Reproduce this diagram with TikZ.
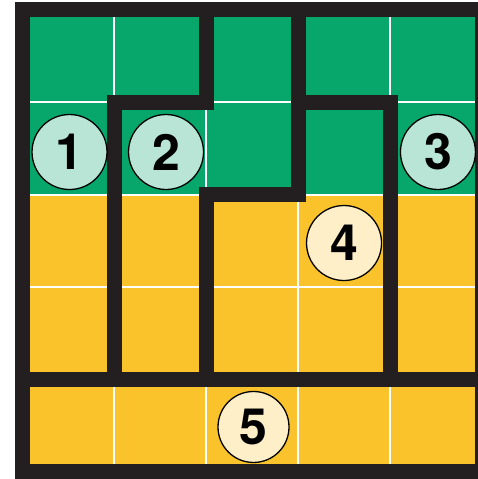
\documentclass[tikz,border=0pt]{standalone}
\usepackage{fontspec}
\newfontfamily\numfont{TeX Gyre Heros}
\usepackage{tikz}

\definecolor{boardgreen}{HTML}{07A66B}
\definecolor{boardyellow}{HTML}{FBC32B}
\definecolor{wallgray}{HTML}{231F20}
\definecolor{palegreen}{HTML}{B8E5D5}
\definecolor{paleyellow}{HTML}{FEEFC8}

\begin{document}
\begin{tikzpicture}[
    x = 92pt, y = -92.4pt,
    cellline/.style = {
      draw = white, line width = 2pt
    },
    wall/.style = {
      draw = wallgray, line width = 15pt, line join = miter, line cap = rect
    },
    spot/.style = {
      circle, draw, line width = 1.3pt, inner sep = 0pt, minimum size = 75pt,
      font = {\numfont\bfseries\fontsize{50}{50}\selectfont}
    },
    greenspot/.style = {
      spot, fill = palegreen
    },
    yellowspot/.style = {
      spot, fill = paleyellow
    },
    ]

    \useasboundingbox (-0.2446,-0.1082) rectangle (4.951,5.076);
    \clip (-0.2446,-0.1082) rectangle (4.951,5.076);

    % draw cells
    \fill [boardgreen]  (0,0) rectangle (5,2);
    \fill [boardyellow]  (0,2) rectangle (5,5);
    \foreach \i in {1, ..., 4}
    \draw  [cellline]  (\i,0) -- (\i,5);
    \foreach \i in {1, ..., 4}
    \draw  [cellline]  (0,\i) -- (5,\i);

    % draw walls of the regions
    \draw  [wall]  (0,0) rectangle (5,5);
    \draw  [wall]  (0,4) -- (5,4);
    \draw  [wall]  (1,4) -- (1,1) -- (2,1) -- (2,0);
    \draw  [wall]  (2,4) -- (2,2) -- (3,2) -- (3,0);
    \draw  [wall]  (4,4) -- (4,1) -- (3,1);

    % draw numbered spots
    \node  [greenspot]  (spot1)  at (0.511,1.537)  {1};
    \node  [greenspot]  (spot2)  at (1.560,1.537)  {2};
    \node  [greenspot]  (spot3)  at (4.516,1.537)  {3};
    \node  [yellowspot]  (spot4)  at (3.495,2.522)  {4};
    \node  [yellowspot, minimum size = 71pt]  (spot5)  at (2.511,4.513)  {5};
\end{tikzpicture}
\end{document}
